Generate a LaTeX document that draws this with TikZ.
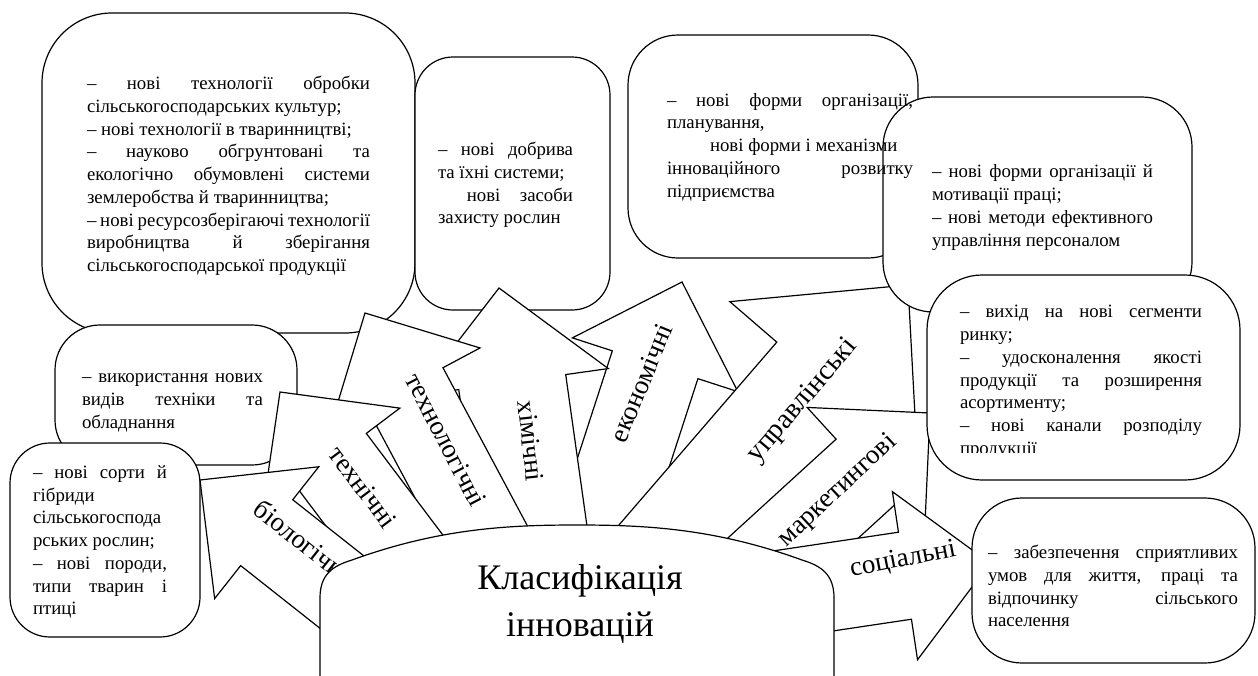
\documentclass[tikz,border=0pt]{standalone}
\usepackage{fontspec}
\IfFontExistsTF{Liberation Serif}{\setmainfont{Liberation Serif}\newfontfamily\tnr{Liberation Serif}}{\setmainfont{DejaVu Serif}\newfontfamily\tnr{DejaVu Serif}}
\newcommand{\jl}[2]{\makebox[#1pt][s]{#2}}
\newcommand{\blkarrow}[7]{%
  \filldraw[shp,shift={(#1,#2)},rotate=#3] (0,0) -- (-#5,#6) -- (-#5,#7) -- (-#4,#7) -- (-#4,-#7) -- (-#5,-#7) -- (-#5,-#6) -- cycle;}
\begin{document}
\begin{tikzpicture}[x=1pt,y=-1pt,
  shp/.style={draw=black,fill=white,line width=1.2pt,line join=miter},
  btext/.style={font=\tnr\fontsize{18.8}{22.75}\selectfont,align=left,inner sep=0pt},
  alab/.style={font=\tnr\fontsize{27}{30}\selectfont,inner sep=0pt}]
\useasboundingbox (0,0) rectangle (1258,675);
\fill[white] (0,0) rectangle (1258,675);

% left and top boxes (behind the arrows)
\filldraw[shp,rounded corners=70pt] (42,13) rectangle (415,333);
\filldraw[shp,rounded corners=38pt] (415,57) rectangle (610,310);
\filldraw[shp,rounded corners=50pt] (628,35) rectangle (918,258);
\filldraw[shp,rounded corners=45pt] (55,325) rectangle (297,465);
\filldraw[shp,rounded corners=40pt] (10,443) rectangle (200,637);

\node[btext] (t1) at (228.5,176) {\jl{283}{– нові технології обробки}\\сільськогосподарських культур;\\– нові технології в тваринництві;\\\jl{283}{– науково обгрунтовані та}\\\jl{283}{екологічно обумовлені системи}\\землеробства й тваринництва;\\\jl{283}{– нові ресурсозберігаючі технології}\\\jl{283}{виробництва й зберігання}\\сільськогосподарської продукції};
\node[btext] (t2) at (505.5,185) {\jl{135}{– нові добрива}\\та їхні системи;\\\jl{135}{\phantom{–} нові засоби}\\захисту рослин};
\node[btext] (t7) at (172.5,403) {\jl{181}{– використання нових}\\\jl{181}{видів техніки та}\\обладнання};
\node[btext] (t8) at (100,542) {\jl{134}{– нові сорти й}\\гібриди\\сільськогоспода\\рських рослин;\\\jl{134}{– нові породи,}\\\jl{134}{типи тварин і}\\птиці};

% block arrows: tip x, tip y, angle, length, head length, head half width, shaft half width
\blkarrow{682}{282}{72}{290}{87}{87}{45}     % економічні
\blkarrow{908}{285}{49.2}{380}{129}{124}{62} % управлінські
\blkarrow{930}{413}{42.4}{280}{87}{87}{44}   % маркетингові
\blkarrow{990}{563}{8.5}{250}{86}{85}{44}    % соціальні
\blkarrow{499}{288}{98}{290}{95}{97}{54}     % хімічні
\blkarrow{365}{313}{118.1}{300}{85}{85}{43}  % технологічні
\blkarrow{280}{392}{127}{260}{85}{86}{44}    % технічні
\blkarrow{200}{480}{141.7}{260}{85}{84}{42}  % біологічні

\node[alab,rotate=67.5] (l6) at (641,383) {економічні};
\node[font=\tnr\fontsize{28.5}{30}\selectfont,inner sep=0pt,rotate=49.5] (l7) at (803,401) {управлінські};
\node[alab,rotate=43] (l8) at (838,491) {маркетингові};
\node[alab,rotate=11] (l9) at (903,560) {соціальні};
\node[alab,rotate=-84] (l5) at (531,441) {хімічні};
\node[alab,rotate=-62.5] (l4) at (446,440) {технологічні};
\node[alab,rotate=-53] (l3) at (363,487) {технічні};
\node[alab,rotate=-38.3] (l2) at (303,541) {біологічні};

% right boxes (in front of the arrows)
\filldraw[shp,rounded corners=50pt] (883,97) rectangle (1192,312);
\filldraw[shp,rounded corners=55pt] (927,275) rectangle (1240,480);
\filldraw[shp,rounded corners=50pt] (972,498) rectangle (1255,663);

\node[btext] (t3) at (790,147) {\jl{246}{– нові форми організації,}\\планування,\\\hspace*{43pt}нові форми і механізми\\\jl{246}{інноваційного розвитку}\\підприємства};
\node[btext] (t4) at (1042.5,207.5) {\jl{221}{– нові форми організації й}\\мотивації праці;\\\jl{221}{– нові методи ефективного}\\управління персоналом};
\begin{scope}
\clip (930,280) rectangle (1236,452);
\node[btext] (t5) at (1081,382) {\jl{242}{– вихід на нові сегменти}\\ринку;\\\jl{242}{– удосконалення якості}\\\jl{242}{продукції та розширення}\\асортименту;\\\jl{242}{– нові канали розподілу}\\продукції};
\end{scope}
\node[btext] (t6) at (1113,586) {\jl{250}{– забезпечення сприятливих}\\\jl{250}{умов для життя, праці та}\\\jl{250}{відпочинку сільського}\\населення};

% central shape
\filldraw[shp] (320,690) -- (320,598) .. controls (320,575) and (332,566) .. (352,560) .. controls (440,528) and (510,525) .. (577,525) .. controls (644,525) and (714,528) .. (802,560) .. controls (822,566) and (834,575) .. (834,598) -- (834,690);
\node[font=\tnr\fontsize{36}{47}\selectfont,align=center,inner sep=0pt] (title) at (580,604) {Класифікація\\інновацій};
\end{tikzpicture}
\end{document}
